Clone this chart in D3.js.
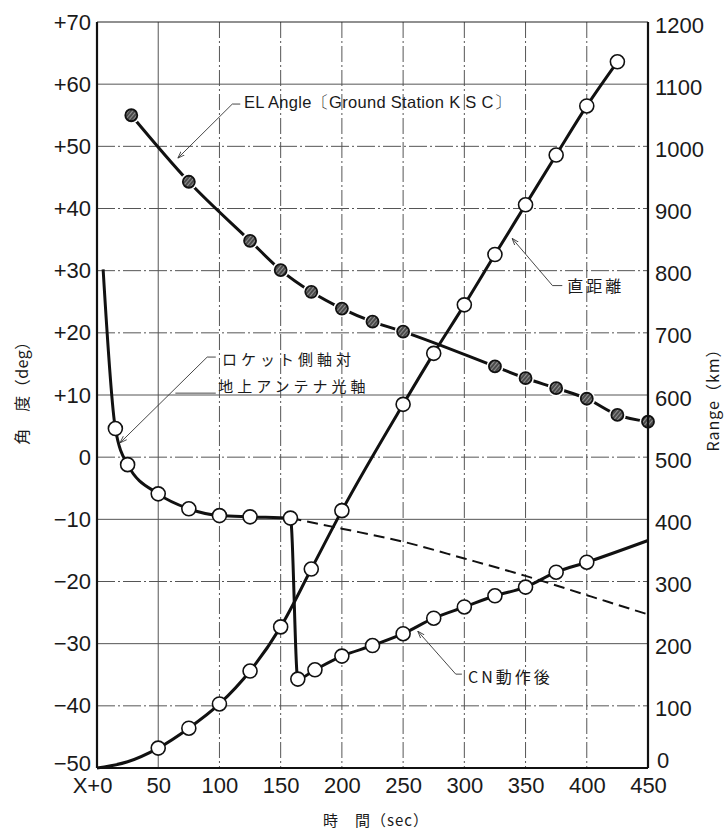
<!DOCTYPE html>
<html>
<head>
<meta charset="utf-8">
<script src="https://cdn.jsdelivr.net/npm/d3@7"></script>
<style>
  body { margin: 0; background: #fff; }
  svg text { font-family: "Liberation Sans", Arial, sans-serif; fill: #1a1a1a; }
  svg text.jp { font-family: "Noto Sans CJK JP", sans-serif; }
</style>
</head>
<body>
<div id="graphicContainer"></div>
<script>
// tick values
var timeTicks = [0, 50, 100, 150, 200, 250, 300, 350, 400, 450]
var angleTicks = [-50, -40, -30, -20, -10, 0, 10, 20, 30, 40, 50, 60, 70]
var rangeTicks = [0, 100, 200, 300, 400, 500, 600, 700, 800, 900, 1000, 1100, 1200]

// EL angle, ground station KSC (deg)
var elTime = [28, 75, 125, 150, 175, 200, 225, 250, 325, 350, 375, 400, 425, 450]
var elAngle = [55, 44.3, 34.8, 30.1, 26.6, 23.9, 21.8, 20.2, 14.6, 12.7, 11.1, 9.4, 6.8, 5.7]

// slant range (km) - first two points are on the curve but carry no marker
var rangeLeadTime = [0, 25]
var rangeLeadKm = [0, 10]
var rangeTime = [50, 75, 100, 125, 150, 175, 200, 250, 275, 300, 325, 350, 375, 400, 425]
var rangeKm = [32, 64, 103, 156, 227, 320, 414, 585, 667, 745, 826, 906, 986, 1065, 1136]

// rocket axis vs ground antenna optical axis (deg); first and last are unmarked ends
var offTime = [5, 15, 25, 50, 75, 100, 125, 158, 164, 178, 200, 225, 250, 275, 300, 325, 350, 375, 400, 450]
var offAngle = [30.2, 4.6, -1.2, -5.9, -8.3, -9.4, -9.6, -9.8, -35.7, -34.2, -32.0, -30.3, -28.4, -25.9, -24.1, -22.3, -20.9, -18.5, -16.9, -13.4]

// continuation without CN action (dashed)
var dashTime = [158, 200, 250, 300, 350, 400, 450]
var dashAngle = [-9.8, -11.5, -13.6, -16.3, -19.1, -22.2, -25.3]

// annotation leaders in data units [time, value]; axis says which y scale
var labels = [
  { text: "EL Angle〔Ground Station K S C〕", axis: "a", at: [120, 56.8], size: 16.5, ls: 0.3, jp: false,
    leader: [[117, 56.8], [110.5, 56.8], [66, 48.1]] },
  { text: "直距離", axis: "r", at: [384, 773], size: 16, ls: 3, jp: true,
    leader: [[380, 776], [372, 776], [339, 852]] },
  { text: "ロケット側軸対", axis: "a", at: [102, 15.5], size: 15, ls: 4, jp: true,
    leader: [[97, 16.1], [90, 16.1], [18.8, 2.3]] },
  { text: "地上アンテナ光軸", axis: "a", at: [99, 11.2], size: 15, ls: 4, jp: true,
    leader: [[97, 10.3], [64, 10.3]] },
  { text: "CN動作後", axis: "a", at: [303, -35.7], size: 16, ls: 3, jp: true,
    leader: [[298, -34.9], [293, -34.9], [262, -28]] }
]

var W = 726, H = 833
var margin = { top: 22, right: 78, bottom: 65, left: 97 }
var width = W - margin.left - margin.right
var height = H - margin.top - margin.bottom

var svg = d3.select("#graphicContainer").append("svg")
  .attr("width", W)
  .attr("height", H)

var defs = svg.append("defs")
var hatch = defs.append("pattern")
  .attr("id", "hatch")
  .attr("width", 3)
  .attr("height", 3)
  .attr("patternUnits", "userSpaceOnUse")
  .attr("patternTransform", "rotate(40)")
hatch.append("rect").attr("width", 3).attr("height", 3).attr("fill", "#4a4a4a")
hatch.append("line").attr("x1", 0).attr("y1", 0).attr("x2", 0).attr("y2", 3)
  .attr("stroke", "#d8d8d8").attr("stroke-width", 1)

defs.append("marker")
  .attr("id", "arrow")
  .attr("viewBox", "0 0 10 10")
  .attr("refX", 10)
  .attr("refY", 5)
  .attr("markerWidth", 7)
  .attr("markerHeight", 7)
  .attr("markerUnits", "userSpaceOnUse")
  .attr("orient", "auto")
  .append("path")
  .attr("d", "M0,1.5 L10,5 L0,8.5")
  .attr("fill", "none")
  .attr("stroke", "#333")
  .attr("stroke-width", 1.2)

var features = svg.append("g").attr("transform", "translate(" + margin.left + "," + margin.top + ")")

var x = d3.scaleLinear().domain([0, 450]).range([0, width])
var yA = d3.scaleLinear().domain([-50, 70]).range([height, 0])
var yR = d3.scaleLinear().domain([0, 1200]).range([height, 0])

// grid
var solidTime = [50]
var solidAngle = [60, 10, -10, -30]

features.selectAll(".vgrid")
  .data(timeTicks.slice(1, -1))
  .enter().append("line")
  .attr("class", "vgrid")
  .attr("x1", function (d) { return x(d) })
  .attr("x2", function (d) { return x(d) })
  .attr("y1", 0)
  .attr("y2", height)
  .attr("stroke", "#555")
  .attr("stroke-width", 1)
  .attr("stroke-dasharray", function (d) {
    return solidTime.indexOf(d) > -1 ? null : "16,3,2,3"
  })

features.selectAll(".hgrid")
  .data(angleTicks.slice(1, -1))
  .enter().append("line")
  .attr("class", "hgrid")
  .attr("x1", 0)
  .attr("x2", width)
  .attr("y1", function (d) { return yA(d) })
  .attr("y2", function (d) { return yA(d) })
  .attr("stroke", "#555")
  .attr("stroke-width", 1)
  .attr("stroke-dasharray", function (d) {
    return solidAngle.indexOf(d) > -1 ? null : "18,3,2,3"
  })

// lines
var elData = elTime.map(function (t, i) { return { t: t, v: elAngle[i] } })
var rangeData = rangeTime.map(function (t, i) { return { t: t, v: rangeKm[i] } })
var rangeCurve = rangeLeadTime.map(function (t, i) { return { t: t, v: rangeLeadKm[i] } }).concat(rangeData)
var offData = offTime.map(function (t, i) { return { t: t, v: offAngle[i] } })
var dashData = dashTime.map(function (t, i) { return { t: t, v: dashAngle[i] } })

var lineA = d3.line()
  .x(function (d) { return x(d.t) })
  .y(function (d) { return yA(d.v) })
  .curve(d3.curveMonotoneX)

var lineR = d3.line()
  .x(function (d) { return x(d.t) })
  .y(function (d) { return yR(d.v) })
  .curve(d3.curveMonotoneX)

features.append("path")
  .attr("d", lineA(dashData))
  .attr("fill", "none")
  .attr("stroke", "#111")
  .attr("stroke-width", 2)
  .attr("stroke-dasharray", "11,6")

features.append("path")
  .attr("d", lineA(offData))
  .attr("fill", "none")
  .attr("stroke", "#111")
  .attr("stroke-width", 3)

features.append("path")
  .attr("d", lineR(rangeCurve))
  .attr("fill", "none")
  .attr("stroke", "#111")
  .attr("stroke-width", 3)

features.append("path")
  .attr("d", lineA(elData))
  .attr("fill", "none")
  .attr("stroke", "#111")
  .attr("stroke-width", 3)

// markers
features.selectAll(".offDot")
  .data(offData.slice(1, -1))
  .enter().append("circle")
  .attr("class", "offDot")
  .attr("cx", function (d) { return x(d.t) })
  .attr("cy", function (d) { return yA(d.v) })
  .attr("r", 7)
  .attr("fill", "#fff")
  .attr("stroke", "#111")
  .attr("stroke-width", 1.6)

features.selectAll(".rangeDot")
  .data(rangeData)
  .enter().append("circle")
  .attr("class", "rangeDot")
  .attr("cx", function (d) { return x(d.t) })
  .attr("cy", function (d) { return yR(d.v) })
  .attr("r", 7)
  .attr("fill", "#fff")
  .attr("stroke", "#111")
  .attr("stroke-width", 1.6)

features.selectAll(".elHalo")
  .data(elData)
  .enter().append("circle")
  .attr("class", "elHalo")
  .attr("cx", function (d) { return x(d.t) })
  .attr("cy", function (d) { return yA(d.v) })
  .attr("r", 8.5)
  .attr("fill", "#fff")

features.selectAll(".elDot")
  .data(elData)
  .enter().append("circle")
  .attr("class", "elDot")
  .attr("cx", function (d) { return x(d.t) })
  .attr("cy", function (d) { return yA(d.v) })
  .attr("r", 6)
  .attr("fill", "url(#hatch)")
  .attr("stroke", "#111")
  .attr("stroke-width", 1.8)

// frame
features.append("line").attr("x1", 0).attr("x2", width).attr("y1", 0).attr("y2", 0)
  .attr("stroke", "#222").attr("stroke-width", 1.2)
features.append("line").attr("x1", 0).attr("x2", width).attr("y1", height).attr("y2", height)
  .attr("stroke", "#111").attr("stroke-width", 2.2)
features.append("line").attr("x1", 0).attr("x2", 0).attr("y1", 0).attr("y2", height)
  .attr("stroke", "#111").attr("stroke-width", 2.2)
features.append("line").attr("x1", width).attr("x2", width).attr("y1", 0).attr("y2", height)
  .attr("stroke", "#111").attr("stroke-width", 2.2)

// axes
function angleFormat(d) {
  if (d > 0) return "+" + d
  if (d < 0) return "\u2212" + Math.abs(d)
  return "0"
}

var leftAxis = features.append("g")
  .call(d3.axisLeft(yA).tickValues(angleTicks).tickSize(0).tickPadding(6).tickFormat(angleFormat))
var rightAxis = features.append("g")
  .attr("transform", "translate(" + width + ",0)")
  .call(d3.axisRight(yR).tickValues(rangeTicks).tickSize(0).tickPadding(7).tickFormat(d3.format("d")))
var bottomAxis = features.append("g")
  .attr("transform", "translate(0," + height + ")")
  .call(d3.axisBottom(x).tickValues(timeTicks).tickSize(0).tickPadding(9).tickFormat(function (d) {
    return d === 0 ? "X+0" : d
  }))

;[leftAxis, rightAxis, bottomAxis].forEach(function (g) {
  g.select(".domain").remove()
  g.selectAll("text")
    .style("font-family", "'Liberation Sans', Arial, sans-serif")
    .style("font-size", "22px")
    .attr("fill", "#1a1a1a")
})

leftAxis.selectAll("text")
  .attr("transform", function (d) { return d === -50 ? "translate(0,-5)" : null })
rightAxis.selectAll("text")
  .attr("transform", function (d) { return d === 0 ? "translate(2,-8)" : "translate(0,3)" })
bottomAxis.selectAll("text")
  .attr("dx", function (d) { return d === 0 ? -5 : 0 })

// axis titles
svg.append("text")
  .attr("class", "jp")
  .attr("transform", "translate(28,389) rotate(-90)")
  .attr("text-anchor", "middle")
  .style("font-size", "16px")
  .style("letter-spacing", "0.5px")
  .text("角　度（deg）")

svg.append("text")
  .attr("class", "jp")
  .attr("transform", "translate(719,396) rotate(-90)")
  .attr("text-anchor", "middle")
  .style("font-size", "16px")
  .style("letter-spacing", "1px")
  .text("Range（km）")

svg.append("text")
  .attr("class", "jp")
  .attr("x", 376)
  .attr("y", 826)
  .attr("text-anchor", "middle")
  .style("font-size", "15px")
  .style("letter-spacing", "1px")
  .text("時　間（sec）")

// annotations
labels.forEach(function (d) {
  var yS = d.axis === "r" ? yR : yA
  var pts = d.leader.map(function (p) { return [x(p[0]), yS(p[1])] })
  features.append("path")
    .attr("d", d3.line()(pts))
    .attr("fill", "none")
    .attr("stroke", "#333")
    .attr("stroke-width", 0.9)
    .attr("marker-end", pts.length > 2 ? "url(#arrow)" : null)

  features.append("text")
    .attr("class", d.jp ? "jp" : null)
    .attr("x", x(d.at[0]))
    .attr("y", yS(d.at[1]))
    .attr("dominant-baseline", "middle")
    .style("font-size", d.size + "px")
    .style("letter-spacing", d.ls + "px")
    .text(d.text)
})
</script>
</body>
</html>
